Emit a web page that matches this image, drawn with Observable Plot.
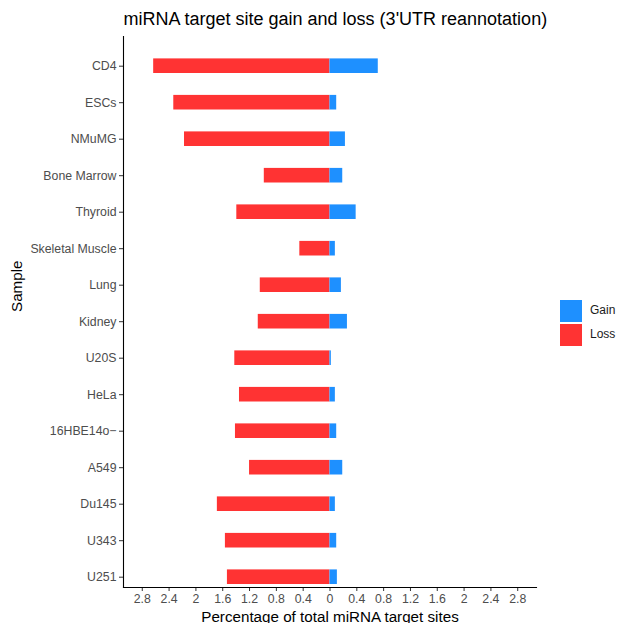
<!DOCTYPE html>
<html><head><meta charset="utf-8">
<script src="https://cdn.jsdelivr.net/npm/d3@7"></script>
<script src="https://cdn.jsdelivr.net/npm/@observablehq/plot@0.6"></script>
<style>
body{margin:0;background:#fff;font-family:"Liberation Sans",Arial,sans-serif;}
#wrap{position:relative;width:618px;height:623px;overflow:hidden;}
.leg{position:absolute;left:560px;font-size:12px;color:#1a1a1a;}
.leg span.sw{position:absolute;left:0;width:22px;height:22px;}
.leg span.lb{position:absolute;left:30px;top:3px;white-space:nowrap;}
</style></head>
<body><div id="wrap"></div>
<script>
const samples = ["CD4","ESCs","NMuMG","Bone Marrow","Thyroid","Skeletal Muscle","Lung","Kidney","U20S","HeLa","16HBE14o−","A549","Du145","U343","U251"];
const lossValues = [2.63,2.33,2.17,0.98,1.39,0.45,1.04,1.07,1.42,1.35,1.41,1.20,1.68,1.56,1.53];
const gainValues = [0.72,0.10,0.23,0.19,0.39,0.08,0.17,0.26,0.02,0.08,0.10,0.19,0.08,0.10,0.11];
const xTicks = [-2.8,-2.4,-2,-1.6,-1.2,-0.8,-0.4,0,0.4,0.8,1.2,1.6,2,2.4,2.8];
const seriesNames = ["Gain","Loss"];
const seriesColors = ["#1E90FF","#FF3333"];
const title = "miRNA target site gain and loss (3'UTR reannotation)";

const rows = samples.map((s,i)=>({sample:s, loss:lossValues[i], gain:gainValues[i]}));

const font = "'Liberation Sans', Arial, sans-serif";
const fmt = d => String(Math.abs(Math.round(d*10)/10));
const plot = Plot.plot({
  width: 618, height: 623,
  marginTop: 36, marginBottom: 36, marginLeft: 123, marginRight: 82,
  style: {fontFamily: font, background: "#fff"},
  x: {domain: [-3.08, 3.08], ticks: xTicks, tickFormat: fmt},
  y: {domain: samples, range: [36.5, 605.9], padding: 0.6, round: false},
  color: {domain: seriesNames, range: seriesColors},
  marks: [
    Plot.barX(rows, {y: "sample", x1: 0, x2: d => -d.loss, fill: () => "Loss"}),
    Plot.barX(rows, {y: "sample", x1: 0, x2: "gain", fill: () => "Gain"}),
    Plot.axisY({tickSize: 4, tickPadding: 3, fontSize: 12.3, color: "#4d4d4d", stroke: "#333", label: null}),
    Plot.axisX({ticks: xTicks, tickFormat: fmt, tickSize: 4, tickPadding: 3, fontSize: 12.3, color: "#4d4d4d", stroke: "#333", label: null}),
    Plot.frame({anchor: "left", stroke: "#000", strokeWidth: 1.1}),
    Plot.frame({anchor: "bottom", stroke: "#000", strokeWidth: 1.1}),
    Plot.text([title], {frameAnchor: "top-left", lineAnchor: "middle", dy: -17, textAnchor: "start", fontSize: 18, fill: "#000"}),
    Plot.text(["Percentage of total miRNA target sites"], {frameAnchor: "bottom", lineAnchor: "middle", dy: 30, fontSize: 15.2, fill: "#000"}),
    Plot.text(["Sample"], {frameAnchor: "left", dx: -106, rotate: -90, fontSize: 15.2, fill: "#000"})
  ]
});
const wrap = document.getElementById("wrap");
wrap.appendChild(plot);
seriesNames.forEach((n,i)=>{
  const d = document.createElement("div");
  d.className = "leg";
  d.style.top = (300 + i*24) + "px";
  d.innerHTML = `<span class="sw" style="background:${seriesColors[i]}"></span><span class="lb">${n}</span>`;
  wrap.appendChild(d);
});
</script></body></html>
